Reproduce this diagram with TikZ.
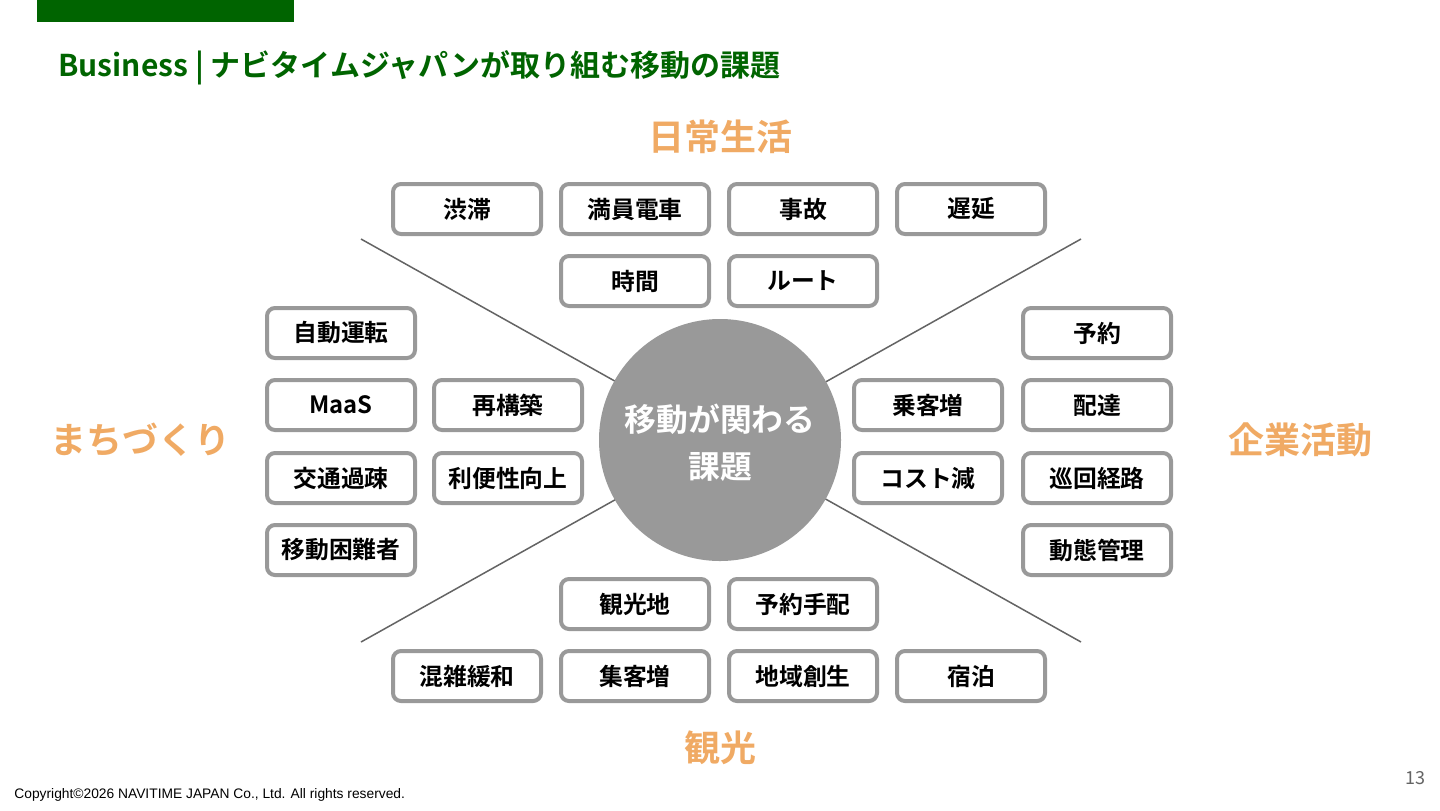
\documentclass[tikz,border=0pt]{standalone}
\usepackage{fontspec}
\setmainfont{Noto Sans CJK JP}
\newfontfamily\jpb{Noto Sans CJK JP Bold}
\newfontfamily\arialf{Liberation Sans}
\definecolor{titlegreen}{RGB}{0,100,0}
\definecolor{catorange}{RGB}{240,170,100}
\definecolor{boxgray}{RGB}{153,153,153}
\definecolor{linegray}{RGB}{100,100,100}
\tikzset{
  item/.style={draw=boxgray, line width=2pt, rounded corners=4pt, fill=white,
    minimum width=74pt, minimum height=25pt, inner sep=0pt,
    font=\jpb\fontsize{11.9pt}{13pt}\selectfont, text=black},
  cat/.style={font=\jpb\fontsize{18pt}{20pt}\selectfont, text=catorange},
  axis/.style={draw=linegray, line width=0.75pt}
}
\begin{document}
\begin{tikzpicture}[x=0.5pt,y=-0.5pt]
\useasboundingbox (0,0) rectangle (1440,810);
\fill[white] (0,0) rectangle (1440,810);
% top bar
\fill[titlegreen] (37,0) rectangle (294,22);
\node[anchor=west, inner sep=0pt, text=titlegreen, font=\jpb\fontsize{15pt}{17pt}\selectfont] (title) at (58,68) {Business | ナビタイムジャパンが取り組む移動の課題};
% axes
\coordinate (a1) at (361,239);
\coordinate (a2) at (1081,642);
\coordinate (b1) at (1081,239);
\coordinate (b2) at (361,642);
\draw[axis] (a1) -- (a2);
\draw[axis] (b1) -- (b2);
% center
\node[circle, fill=boxgray, minimum size=121pt, inner sep=0pt] (center) at (720,440) {};
\node[text=white, align=center, inner sep=0pt,
  font=\jpb\fontsize{15.9pt}{23.5pt}\selectfont] (centertext) at (720,443) {移動が関わる\\課題};
% categories
\node[cat] (c1) at (720,137) {日常生活};
\node[cat] (c2) at (140,440) {まちづくり};
\node[cat] (c3) at (1300,440) {企業活動};
\node[cat] (c4) at (720,748) {観光};
% top items
\node[item] (t1) at (467,209) {渋滞};
\node[item] (t2) at (635,209) {満員電車};
\node[item] (t3) at (803,209) {事故};
\node[item] (t4) at (971,209) {遅延};
\node[item] (t5) at (635,281) {時間};
\node[item] (t6) at (803,281) {ルート};
% left items
\node[item] (l1) at (341,333) {自動運転};
\node[item] (l2) at (341,405) {MaaS};
\node[item] (l3) at (341,478) {交通過疎};
\node[item] (l4) at (341,550) {移動困難者};
\node[item] (l5) at (508,405) {再構築};
\node[item] (l6) at (508,478) {利便性向上};
% right items
\node[item] (r1) at (928,405) {乗客増};
\node[item] (r2) at (928,478) {コスト減};
\node[item] (r3) at (1097,333) {予約};
\node[item] (r4) at (1097,405) {配達};
\node[item] (r5) at (1097,478) {巡回経路};
\node[item] (r6) at (1097,550) {動態管理};
% bottom items
\node[item] (b1n) at (635,604) {観光地};
\node[item] (b2n) at (803,604) {予約手配};
\node[item] (b3n) at (467,676) {混雑緩和};
\node[item] (b4n) at (635,676) {集客増};
\node[item] (b5n) at (803,676) {地域創生};
\node[item] (b6n) at (971,676) {宿泊};
% footer
\node[anchor=west, inner sep=0pt, font=\arialf\fontsize{6.9pt}{8pt}\selectfont] (copy) at (14,795) {Copyright©2026 NAVITIME JAPAN Co., Ltd. All rights reserved.};
\node[inner sep=0pt, text=linegray, font=\fontsize{9pt}{10pt}\selectfont] (page) at (1415,778) {13};
\end{tikzpicture}
\end{document}
